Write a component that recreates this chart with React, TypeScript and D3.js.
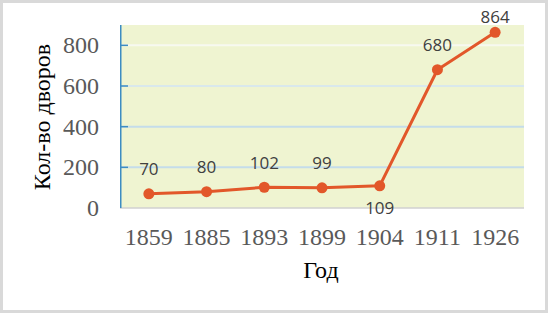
import React from "react";
import * as d3 from "d3";

const categories = ["1859", "1885", "1893", "1899", "1904", "1911", "1926"];
const values = [70, 80, 102, 99, 109, 680, 864];
const labelPlacement = ["above", "above", "above", "above", "below", "above", "above"];
const yTicks = [0, 200, 400, 600, 800];
const yTitle = "Кол-во дворов";
const xTitle = "Год";

const W = 548;
const H = 313;
const plot = { left: 120, right: 524, top: 25, bottom: 208 };

const gridColors: Record<number, string> = {
  200: "#c4dcea",
  400: "#c4dcea",
  600: "#d9e8ec",
  800: "#f7f9f0",
};

export default function App() {
  const x = d3
    .scaleBand<string>()
    .domain(categories)
    .range([plot.left, plot.right])
    .paddingInner(0)
    .paddingOuter(0);
  const y = d3.scaleLinear().domain([0, 900]).range([plot.bottom, plot.top]);
  const cx = (c: string) => (x(c) as number) + x.bandwidth() / 2;

  const line = d3
    .line<number>()
    .x((_, i) => cx(categories[i]))
    .y((v) => y(v));

  const serif = "'Liberation Serif', 'Times New Roman', serif";
  const sans = "'Open Sans', 'Noto Sans', sans-serif";

  return (
    <div style={{ position: "absolute", left: 0, top: 0 }}>
      <svg width={W} height={H} style={{ display: "block" }}>
        <rect x={0} y={0} width={W} height={H} fill="#ffffff" />
        <rect x={1.5} y={1.5} width={W - 3} height={H - 3} fill="none" stroke="#d9d9d9" strokeWidth={3} />
        <rect
          x={plot.left}
          y={plot.top}
          width={plot.right - plot.left}
          height={plot.bottom - plot.top}
          fill="#eff4d1"
        />
        {yTicks
          .filter((t) => t > 0)
          .map((t) => (
            <line
              key={"g" + t}
              x1={plot.left}
              x2={plot.right}
              y1={y(t)}
              y2={y(t)}
              stroke={gridColors[t]}
              strokeWidth={2}
            />
          ))}
        <line x1={plot.left} x2={plot.right} y1={plot.bottom} y2={plot.bottom} stroke="#d0d0d0" strokeWidth={1.5} />
        <line x1={plot.left + 0.75} x2={plot.left + 0.75} y1={plot.top} y2={plot.bottom} stroke="#3d8cc2" strokeWidth={1.5} />
        {yTicks
          .filter((t) => t > 0)
          .map((t) => (
            <line
              key={"t" + t}
              x1={plot.left}
              x2={plot.left + 8}
              y1={y(t)}
              y2={y(t)}
              stroke="#3d8cc2"
              strokeWidth={1.5}
            />
          ))}
        {yTicks.map((t) => (
          <text
            key={"yl" + t}
            x={99}
            y={y(t)}
            textAnchor="end"
            dominantBaseline="central"
            fontFamily={serif}
            fontSize={24}
            fill="#595959"
          >
            {t}
          </text>
        ))}
        {categories.map((c) => (
          <text
            key={"xl" + c}
            x={cx(c)}
            y={245}
            textAnchor="middle"
            fontFamily={serif}
            fontSize={24}
            fill="#595959"
          >
            {c}
          </text>
        ))}
        <path d={line(values) || ""} fill="none" stroke="#e2572a" strokeWidth={3} strokeLinejoin="round" />
        {values.map((v, i) => (
          <circle key={"p" + i} cx={cx(categories[i])} cy={y(v)} r={5.5} fill="#e2572a" />
        ))}
        {values.map((v, i) => {
          const py = y(v);
          const ly = labelPlacement[i] === "below" ? py + 22 : Math.max(py - 25, 16);
          return (
            <text
              key={"dl" + i}
              x={cx(categories[i])}
              y={ly}
              textAnchor="middle"
              dominantBaseline="central"
              fontFamily={sans}
              fontSize={17}
              fill="#404040"
            >
              {v}
            </text>
          );
        })}
        <text
          x={321}
          y={278}
          textAnchor="middle"
          fontFamily={serif}
          fontSize={24}
          fill="#000000"
        >
          {xTitle}
        </text>
        <text
          transform={`translate(50, 117) rotate(-90)`}
          textAnchor="middle"
          fontFamily={serif}
          fontSize={24}
          fill="#000000"
        >
          {yTitle}
        </text>
      </svg>
    </div>
  );
}
